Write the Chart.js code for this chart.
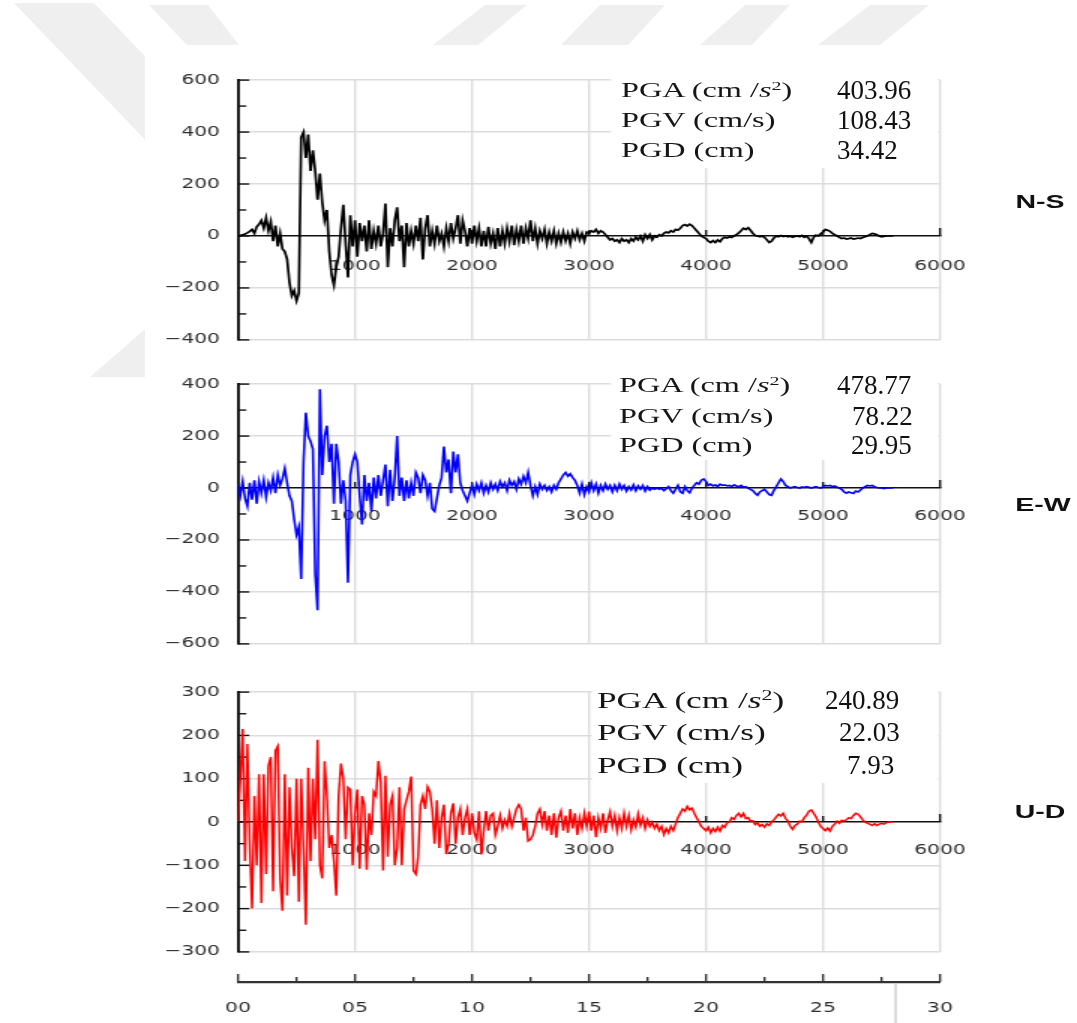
<!DOCTYPE html>
<html>
<head>
<meta charset="utf-8">
<script src="https://cdn.jsdelivr.net/npm/chart.js@4.4.1/dist/chart.umd.min.js"></script>
<style>
  html, body { margin: 0; padding: 0; background: #fff; }
  body { width: 1077px; height: 1023px; position: relative; overflow: hidden; font-family: 'DejaVu Sans', sans-serif; }
  #watermark { position: absolute; left: 0; top: 0; }
  /* the original figure is stretched sideways, so the charts are drawn narrow and widened */
  #stretch { position: absolute; left: 0; top: 0; width: 718px; height: 1023px; transform: scaleX(1.5); transform-origin: 0 0; }
  #stretch canvas { position: absolute; left: 0; }
  .stat { position: absolute; font-family: 'Liberation Serif', serif; color: #161616; white-space: nowrap; line-height: 24px; }
  .stat sup { font-size: 0.62em; vertical-align: 0.55em; line-height: 0; }
  .comp { position: absolute; width: 80px; text-align: center; font-family: 'Liberation Sans', sans-serif; font-weight: bold; font-size: 19px; line-height: 22px; color: #111; }
  .val { position: absolute; font-family: 'Liberation Serif', serif; font-size: 27px; line-height: 30px; color: #111; white-space: nowrap; }
</style>
</head>
<body>
<svg id="watermark" width="1077" height="1023">
  <g fill="#efefef">
    <polygon points="14,3 94,3 300,218 220,218"/>
    <polygon points="90,377 200,377 300,290 190,290"/>
    <polygon points="149,5 208,5 239,45 187,45"/>
    <polygon points="485,5 527,5 478,45 433,45"/>
    <polygon points="600,5 665,5 628,45 561,45"/>
    <polygon points="745,5 790,5 752,45 700,45"/>
    <polygon points="870,5 929,5 880,45 818,45"/>
  </g>
  <rect x="145" y="45" width="932" height="978" fill="#fff"/>
</svg>
<div id="stretch">
  <canvas id="ns" width="718" height="300"></canvas>
  <canvas id="ew" width="718" height="300"></canvas>
  <canvas id="ud" width="718" height="300"></canvas>
  <canvas id="time" width="718" height="68"></canvas>
</div>
<script>
const STRETCH = 1.5;
const SAMPLE_STEP = 20; // samples between stored values

const components = ['N-S', 'E-W', 'U-D'];
const lineColors = ['#000000', '#0000ff', '#ff0000'];
const lineWidths = [1.7, 1.6, 1.5];
const statNames = ['PGA (cm /<i>s</i><sup>2</sup>)', 'PGV (cm/s)', 'PGD (cm)'];
const pga = [403.96, 478.77, 240.89];
const pgv = [108.43, 78.22, 22.03];
const pgd = [34.42, 29.95, 7.93];

const sampleTicks = [1000, 2000, 3000, 4000, 5000, 6000];
const nsTicks = [-400, -200, 0, 200, 400, 600];
const ewTicks = [-600, -400, -200, 0, 200, 400];
const udTicks = [-300, -200, -100, 0, 100, 200, 300];
const timeTicks = [0, 5, 10, 15, 20, 25, 30];
const recordEnd = 28.1; // s

// acceleration (cm/s2), one value every SAMPLE_STEP samples
const nsValues = [
  0, 2, 5, 8, 12, 18, 25, 10, 35, 45,
  60, 30, 70, 20, 55, -20, 40, -40, 10, -50,
  -60, -90, -180, -230, -210, -250, -220, 380, 400, 300,
  390, 250, 330, 250, 140, 240, 130, 60, 100, -60,
  -150, -190, -120, -80, 30, 120, -30, -160, 80, -40,
  60, -80, 50, -20, 40, -60, 60, -50, 20, -30,
  40, -40, 10, 125, -120, 30, -40, 60, 110, -20,
  40, -120, 50, -40, 20, -30, 40, -20, 70, -90,
  30, 80, -40, 20, -30, 40, -20, 10, -40, 30,
  -20, 50, -10, 30, 80, -30, 60, 20, -40, 30,
  -30, 40, -20, 30, -40, 20, -40, 35, -30, 10,
  -50, 30, -40, 20, -30, 30, -20, 40, -35, 25,
  -20, 40, -30, 30, -10, 60, -20, 30, -30, 20,
  -10, 25, -30, 15, -20, 20, -30, 10, -25, 15,
  -20, 10, -30, 15, -10, 20, -15, 10, -20, 15,
  10, 20, 15, 25, 10, 20, 15, 5, -5, -15,
  -10, -20, -15, -25, -10, -20, -15, -25, -10, -20,
  -5, -15, 0, -20, 5, -10, 5, -15, 0, -5,
  5, 0, 10, 15, 12, 20, 15, 25, 22, 30,
  40, 44, 38, 45, 40, 30, 20, 10, 0, -5,
  -10, -20, -25, -18, -25, -15, -22, -10, -5, -8,
  -3, -6, 0, 5, 12, 20, 30, 25, 32, 22,
  10, 2, 0, -3, 0, -5, -15, -25, -20, -8,
  0, -3, 2, -2, 0, -3, 0, -5, -2, 0,
  -3, 2, -5, 0, -10, -25, -5, 3, 0, 8,
  15, 25, 22, 18, 10, 5, 0, -5, -10, -8,
  -12, -10, -8, -12, -10, -8, -10, -6, -3, 0,
  5, 10, 8, 5, 0, -3, -2, 0, 0, 0,
  0
];

const ewValues = [
  10, -30, 25, -40, -70, 20, -45, 30, -60, 25,
  -20, 30, -35, 20, -10, 40, -20, 50, 10, 35,
  75, 20, -30, -50, -120, -180, -150, -350, 100, 290,
  200, 180, 150, -330, -470, 380, 50, 200, 240, 100,
  170, -60, 170, 100, -60, 30, -50, -365, 50, 100,
  130, 100, -30, -140, 50, -50, 20, -90, 40, -40,
  50, -30, 30, 90, -70, 70, -50, 40, 200, -30,
  40, -50, 30, -40, 20, -30, 60, 40, -20, 50,
  30, -30, 20, -80, -90, -40, 10, 40, 160, 60,
  110, -20, 140, 60, 130, 20, -10, -30, -50, -20,
  10, -25, 15, -10, 20, -20, 10, -15, 20, -5,
  15, -10, 25, 5, 20, -10, 30, 10, 25, -5,
  35, 15, 45, 20, 60, 10, -30, 5, -25, 15,
  -5, 10, -10, 5, -15, 10, -5, 20, 35, 50,
  60, 45, 55, 40, 30, 10, -20, 15, -25, 5,
  -15, 20, -10, 15, -20, 10, -10, 15, -5, 10,
  -15, 10, -10, 15, -5, 10, -12, 5, -8, 12,
  -10, 8, -5, 10, -12, 5, -8, 0, -5, 0,
  -5, 0, -10, -3, 5, -10, -20, -5, 10, -15,
  -20, 5, -10, -18, 0, 10, 20, 15, 30, 35,
  25, 10, 15, 8, 12, 5, 15, 10, 12, 8,
  10, 5, 12, 8, 5, 10, 3, 5, 0, -5,
  -10, -20, -28, -15, -10, -5, -15, -25, -28, -10,
  5, 20, 35, 25, 10, 5, 0, 3, 5, 2,
  0, 4, 2, 5, 3, 0, 3, 5, 2, 0,
  5, 10, 8, 10, 5, 8, 3, 0, -5, -15,
  -20, -15, -18, -21, -12, -15, -8, 0, 5, 10,
  8, 10, 5, 2, 0, 0, -2, 0, 0, 0,
  0
];

const udValues = [
  0, 100, 215, -90, 180, -50, -200, 60, -100, 110,
  -187, 110, -120, 130, 150, -160, 165, 175, -130, -205,
  110, -170, 80, -60, -125, 100, -184, 100, -60, -237,
  125, -90, 100, -40, 190, -100, -130, 140, 60, -60,
  -30, -90, -170, 60, 135, 100, -40, 80, 75, -100,
  20, 75, -108, 60, 40, -110, 20, -30, 70, 60,
  141, 90, -112, 107, -80, 40, 60, -100, -60, 80,
  -100, 30, 50, 70, 105, -112, -120, -80, 40, 60,
  30, 81, 70, 30, -50, 50, -60, 10, 40, -74,
  -50, 20, 43, -50, 10, 30, -30, 10, 30, -30,
  20, -25, -40, 25, -75, -20, 25, -20, 15, 20,
  -30, -10, 15, -15, 5, -10, 20, -10, 10, 30,
  40, 30, -20, 10, -44, -40, -30, -10, 20, 30,
  -5, 25, -20, 15, -30, 20, -36, 10, 25, -20,
  15, -25, 30, -15, 20, -30, 10, -15, 20, -10,
  24, -20, 15, -35, 10, -15, 20, -25, 5, 24,
  -10, 15, -20, 10, -15, 20, -10, 15, -18, 5,
  -12, 18, -8, 10, -15, 5, -10, 0, -15, -5,
  -20, -10, -29, -15, -25, -10, -20, -5, 10, 20,
  30, 25, 36, 28, 32, 20, 10, 0, -10, -15,
  -20, -12, -25, -15, -22, -12, -21, -8, -12, -2,
  0, 10, 6, 15, 20, 12, 20, 8, 10, 2,
  3, -6, -2, -10, -6, -12, -4, -8, 0, 5,
  12, 18, 14, 20, 8, 2, -10, -17, -8, -5,
  2, 0, 10, 16, 25, 28, 20, 12, 0, -10,
  -15, -20, -14, -21, -10, -5, 2, -3, 4, 2,
  5, 10, 8, 15, 20, 18, 12, 5, 0, -3,
  -5, -8, -4, -8, -5, -3, -5, -2, 0, 0,
  0
];

Chart.defaults.font.family = "'DejaVu Sans', sans-serif";
Chart.defaults.color = '#2e2e2e';

const panels = [
  { id: 'ns', values: nsValues, ticks: nsTicks, minorStep: 100, tickPad: 22,
    canvasTop: 60, plotTop: 79, plotBottom: 345, box: [611, 168],
    labelLeft: 621, labelSize: 21.5, rows: [90, 120, 149.5], valueLefts: [837, 837, 837], comp: [1040, 202] },
  { id: 'ew', values: ewValues, ticks: ewTicks, minorStep: 100, tickPad: 20,
    canvasTop: 364, plotTop: 383.5, plotBottom: 647.5, box: [611, 460],
    labelLeft: 619, labelSize: 21.5, rows: [385, 416, 444.5], valueLefts: [837, 852, 851], comp: [1043, 505] },
  { id: 'ud', values: udValues, ticks: udTicks, minorStep: 50, tickPad: 20,
    canvasTop: 672, plotTop: 691.7, plotBottom: 956.3, box: [592, 783],
    labelLeft: 597, labelSize: 23.5, rows: [700, 731.7, 765], valueLefts: [825, 839, 847], comp: [1040, 811.7] }
];

const PLOT_LEFT = 238 / STRETCH;
const PLOT_RIGHT = 940 / STRETCH;
const CANVAS_W = 718;
const Y_AXIS_W = 58.67;

const minusSign = v => String(v).replace('-', '\u2212');

// white patch behind the peak values, inner ticks on the axes
const panelDecor = {
  id: 'panelDecor',
  beforeDatasetsDraw(chart, args, opts) {
    const { ctx, chartArea } = chart;
    const xs = chart.scales.x, ys = chart.scales.y;
    ctx.save();
    const boxLeft = opts.box[0] / STRETCH;
    const boxBottom = opts.box[1] - opts.canvasTop;
    ctx.fillStyle = '#fff';
    ctx.fillRect(boxLeft, chartArea.top - 2, chartArea.right - 1.2 - boxLeft, boxBottom - chartArea.top + 2);

    ctx.strokeStyle = '#111';
    ctx.lineWidth = 1.4;
    for (let v = ys.min; v <= ys.max; v += opts.minorStep) {
      const py = ys.getPixelForValue(v);
      const len = v % (2 * opts.minorStep) === 0 ? 7.5 : 5.5;
      ctx.beginPath();
      ctx.moveTo(chartArea.left, py);
      ctx.lineTo(chartArea.left + len, py);
      ctx.stroke();
    }
    const zero = ys.getPixelForValue(0);
    sampleTicks.forEach(v => {
      const px = xs.getPixelForValue(v);
      const len = v === 6000 ? 8 : 6;
      ctx.beginPath();
      ctx.moveTo(px, zero);
      ctx.lineTo(px, zero - len);
      ctx.stroke();
    });
    ctx.restore();
  }
};

panels.forEach((p, i) => {
  const canvas = document.getElementById(p.id);
  canvas.style.top = p.canvasTop + 'px';
  const points = p.values.map((v, k) => ({ x: k * SAMPLE_STEP, y: v }));

  new Chart(canvas, {
    type: 'line',
    data: {
      datasets: [{
        data: points,
        borderColor: lineColors[i],
        borderWidth: lineWidths[i],
        pointRadius: 0,
        tension: 0,
        fill: false
      }]
    },
    options: {
      responsive: false,
      animation: false,
      devicePixelRatio: 1,
      events: [],
      layout: {
        padding: {
          left: PLOT_LEFT - Y_AXIS_W,
          right: CANVAS_W - PLOT_RIGHT,
          top: p.plotTop - p.canvasTop,
          bottom: p.canvasTop + 300 - p.plotBottom
        }
      },
      plugins: {
        legend: { display: false },
        tooltip: { enabled: false },
        panelDecor: { box: p.box, canvasTop: p.canvasTop, minorStep: p.minorStep }
      },
      scales: {
        x: {
          type: 'linear',
          position: { y: 0 },
          min: 0,
          max: 6000,
          afterBuildTicks: s => { s.ticks = sampleTicks.map(v => ({ value: v })); },
          ticks: { autoSkip: false, maxRotation: 0, padding: p.tickPad, font: { size: 13.5 }, callback: v => String(v) },
          grid: { color: '#dcdcdc', lineWidth: 1.4, drawTicks: false },
          border: { color: '#111', width: 1.5 }
        },
        y: {
          min: p.ticks[0],
          max: p.ticks[p.ticks.length - 1],
          afterFit: s => { s.width = Y_AXIS_W; },
          afterBuildTicks: s => { s.ticks = p.ticks.map(v => ({ value: v })); },
          ticks: { autoSkip: false, padding: 12, font: { size: 13.5 }, callback: minusSign },
          grid: {
            color: c => (c.tick && c.tick.value === 0 ? 'rgba(0,0,0,0)' : '#dcdcdc'),
            lineWidth: 1.6,
            drawTicks: false
          },
          border: { color: '#111', width: 1.9 }
        }
      }
    },
    plugins: [panelDecor]
  });

  const stretch = document.getElementById('stretch');
  const values = [pga[i], pgv[i], pgd[i]];
  statNames.forEach((name, r) => {
    const lab = document.createElement('div');
    lab.className = 'stat';
    lab.style.left = (p.labelLeft / STRETCH) + 'px';
    lab.style.top = (p.rows[r] - 12) + 'px';
    lab.style.fontSize = p.labelSize + 'px';
    lab.innerHTML = name;
    stretch.appendChild(lab);

    const val = document.createElement('div');
    val.className = 'val';
    val.style.left = p.valueLefts[r] + 'px';
    val.style.top = (p.rows[r] - 15) + 'px';
    val.textContent = values[r].toFixed(2);
    document.body.appendChild(val);
  });

  const comp = document.createElement('div');
  comp.className = 'comp';
  comp.style.left = (p.comp[0] / STRETCH - 40) + 'px';
  comp.style.top = (p.comp[1] - 11) + 'px';
  comp.textContent = components[i];
  stretch.appendChild(comp);
});

// time axis under the three records
const timeDecor = {
  id: 'timeDecor',
  afterDraw(chart) {
    const { ctx, chartArea } = chart;
    const xs = chart.scales.x;
    ctx.save();
    ctx.strokeStyle = '#333';
    ctx.lineWidth = 1.4;
    for (let v = 0; v <= 30; v += 2.5) {
      const px = xs.getPixelForValue(v);
      const len = v % 5 === 0 ? 8 : 5;
      ctx.beginPath();
      ctx.moveTo(px, chartArea.bottom);
      ctx.lineTo(px, chartArea.bottom - len);
      ctx.stroke();
    }
    ctx.strokeStyle = '#c4c4c4';
    ctx.lineWidth = 1.2;
    const endX = xs.getPixelForValue(recordEnd);
    ctx.beginPath();
    ctx.moveTo(endX, chartArea.bottom + 2);
    ctx.lineTo(endX, chart.height);
    ctx.stroke();
    ctx.restore();
  }
};

const timeCanvas = document.getElementById('time');
timeCanvas.style.top = '955px';
new Chart(timeCanvas, {
  type: 'line',
  data: { datasets: [] },
  options: {
    responsive: false,
    animation: false,
    devicePixelRatio: 1,
    events: [],
    layout: { padding: { left: PLOT_LEFT, right: CANVAS_W - PLOT_RIGHT, top: 19, bottom: 0 } },
    plugins: { legend: { display: false }, tooltip: { enabled: false } },
    scales: {
      x: {
        type: 'linear',
        position: 'bottom',
        min: 0,
        max: 30,
        afterFit: s => { s.height = 41; },
        afterBuildTicks: s => { s.ticks = timeTicks.map(v => ({ value: v })); },
        ticks: { autoSkip: false, maxRotation: 0, padding: 18, font: { size: 13.5 }, callback: v => String(v).padStart(2, '0') },
        grid: { display: true, drawOnChartArea: false, drawTicks: false },
        border: { color: '#333', width: 2.2 }
      },
      y: { display: false, min: 0, max: 1 }
    }
  },
  plugins: [timeDecor]
});
</script>
</body>
</html>
